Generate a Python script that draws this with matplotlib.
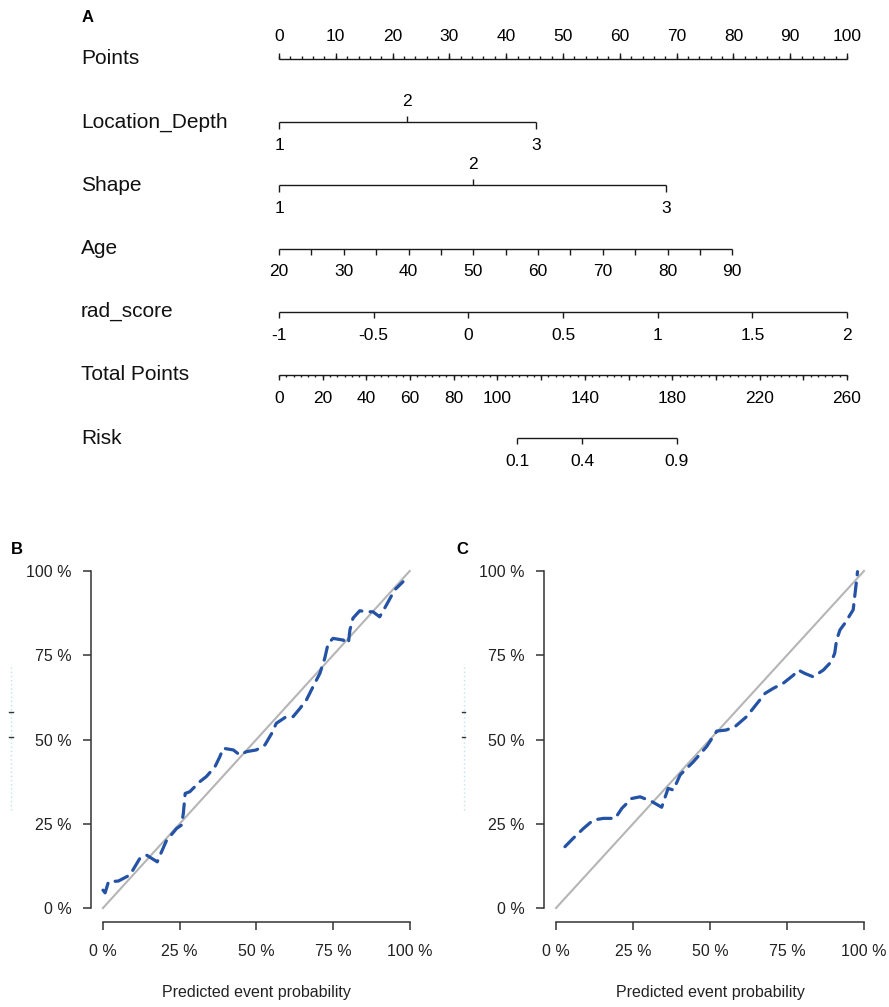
import numpy as np
import matplotlib
matplotlib.use("Agg")
import matplotlib.pyplot as plt

plt.rcParams['font.family'] = ['Liberation Sans', 'DejaVu Sans']

# ---- nomogram (panel A) data, everything in "points" units 0..100 ----
row_names = ['Points', 'Location_Depth', 'Shape', 'Age', 'rad_score', 'Total Points', 'Risk']

points_labels = np.arange(0, 101, 10)

loc_levels = ['1', '2', '3']
loc_points = [0.0, 22.5, 45.2]

shape_levels = ['1', '2', '3']
shape_points = [0.0, 34.2, 68.1]

age_ticks = [20, 25, 30, 35, 40, 45, 50, 55, 60, 65, 70, 75, 80, 85, 90]
age_labels = [20, 30, 40, 50, 60, 70, 80, 90]
age_range = (20, 90)
age_points_max = 79.8

rad_ticks = [-1, -0.5, 0, 0.5, 1, 1.5, 2]
rad_labels = ['-1', '-0.5', '0', '0.5', '1', '1.5', '2']

total_max = 260
total_labels = [0, 20, 40, 60, 80, 100, 140, 180, 220, 260]

risk_labels = ['0.1', '0.4', '0.9']
risk_total = [109.1, 138.9, 182.0]

# ---- calibration curves (panels B, C) ----
b_pred = [0.0, 0.007, 0.018, 0.05, 0.088, 0.12, 0.142, 0.177, 0.19, 0.207, 0.24, 0.256,
          0.262, 0.268, 0.283, 0.316, 0.337, 0.365, 0.381, 0.392, 0.425, 0.446, 0.468,
          0.5, 0.528, 0.55, 0.565, 0.598, 0.62, 0.642, 0.663, 0.685, 0.707, 0.723,
          0.734, 0.75, 0.783, 0.8, 0.805, 0.815, 0.837, 0.859, 0.88, 0.902, 0.924,
          0.951, 0.978]
b_obs = [0.053, 0.045, 0.078, 0.08, 0.098, 0.147, 0.157, 0.137, 0.165, 0.2, 0.236, 0.246,
         0.281, 0.34, 0.345, 0.375, 0.39, 0.419, 0.449, 0.474, 0.469, 0.454, 0.464,
         0.469, 0.484, 0.518, 0.548, 0.568, 0.568, 0.592, 0.617, 0.657, 0.696, 0.741,
         0.785, 0.8, 0.795, 0.785, 0.825, 0.86, 0.882, 0.879, 0.879, 0.864, 0.899,
         0.944, 0.968]

c_pred = [0.029, 0.056, 0.089, 0.121, 0.154, 0.192, 0.214, 0.246, 0.273, 0.311, 0.343,
          0.364, 0.381, 0.403, 0.446, 0.489, 0.522, 0.552, 0.581, 0.619, 0.652, 0.679,
          0.706, 0.738, 0.771, 0.787, 0.808, 0.835, 0.868, 0.894, 0.905, 0.911, 0.922,
          0.938, 0.965, 0.97, 0.976, 0.979]
c_obs = [0.182, 0.207, 0.236, 0.261, 0.266, 0.266, 0.296, 0.325, 0.330, 0.316, 0.299,
         0.355, 0.350, 0.395, 0.434, 0.479, 0.525, 0.528, 0.538, 0.568, 0.606, 0.637,
         0.652, 0.667, 0.691, 0.706, 0.696, 0.686, 0.706, 0.731, 0.756, 0.795, 0.825,
         0.845, 0.885, 0.925, 0.973, 0.998]

pct_ticks = [0, 0.25, 0.5, 0.75, 1.0]
pct_labels = ['0 %', '25 %', '50 %', '75 %', '100 %']

W, H = 889, 1007
fig = plt.figure(figsize=(W / 100, H / 100), dpi=100)

# ---------------- panel A ----------------
px_per_pt = (847 - 279) / 100.0
row_px = 63.17
axA = fig.add_axes([0, 1 - 480 / H, 1, 480 / H])
axA.set_xlim(-279 / px_per_pt, (W - 279) / px_per_pt)
axA.set_ylim((480 - 59) / row_px, -59 / row_px)
axA.axis('off')

LC = '#1a1a1a'
LW = 1.0
lab_off = 0.37
maj = 6 / row_px
mnr = 3 / row_px
TFS = 12.5


def hline(r, x0, x1):
    axA.plot([x0, x1], [r, r], color=LC, lw=LW, solid_capstyle='butt')


def ticks(r, xs, length):
    axA.vlines(xs, r, r + length, color=LC, lw=LW)


for i, name in enumerate(row_names):
    axA.text((81 - 279) / px_per_pt, i, name, fontsize=15, va='center', ha='left', color='#111')

# Points
r = 0
hline(r, 0, 100)
ticks(r, points_labels, -maj)
ticks(r, np.arange(0, 101, 2), -mnr)
for v in points_labels:
    axA.text(v, r - 0.35, str(v), fontsize=TFS, ha='center', va='center')

# Location_Depth / Shape
for r, levels, pts in [(1, loc_levels, loc_points), (2, shape_levels, shape_points)]:
    hline(r, pts[0], pts[-1])
    ticks(r, [pts[0], pts[-1]], 7 / row_px)
    ticks(r, pts[1:-1], -maj)
    for k, (lv, p) in enumerate(zip(levels, pts)):
        off = -0.33 if 0 < k < len(pts) - 1 else lab_off
        axA.text(p, r + off, lv, fontsize=TFS, ha='center', va='center')

# Age
r = 3
age_to_pts = lambda a: (np.asarray(a) - age_range[0]) / (age_range[1] - age_range[0]) * age_points_max
hline(r, 0, age_points_max)
ticks(r, age_to_pts(age_ticks), maj)
for a in age_labels:
    axA.text(age_to_pts(a), r + lab_off, str(a), fontsize=TFS, ha='center', va='center')

# rad_score
r = 4
rad_to_pts = lambda v: (np.asarray(v) - rad_ticks[0]) / (rad_ticks[-1] - rad_ticks[0]) * 100
hline(r, 0, 100)
ticks(r, rad_to_pts(rad_ticks), maj)
for v, s in zip(rad_ticks, rad_labels):
    axA.text(rad_to_pts(v), r + lab_off, s, fontsize=TFS, ha='center', va='center')

# Total Points
r = 5
tot_to_pts = lambda v: np.asarray(v) / total_max * 100
hline(r, 0, 100)
ticks(r, tot_to_pts(np.arange(0, total_max + 1, 20)), 5 / row_px)
ticks(r, tot_to_pts(np.arange(0, total_max + 0.1, 20 / 6)), 2.5 / row_px)
for v in total_labels:
    axA.text(tot_to_pts(v), r + lab_off, str(v), fontsize=TFS, ha='center', va='center')

# Risk
r = 6
rp = tot_to_pts(risk_total)
hline(r, rp[0], rp[-1])
ticks(r, rp, maj)
for p, s in zip(rp, risk_labels):
    axA.text(p, r + lab_off, s, fontsize=TFS, ha='center', va='center')

fig.text(82 / W, 1 - 18 / H, 'A', fontsize=12, fontweight='bold', va='center', ha='left')


# ---------------- panels B, C ----------------
def calib(ax, pred, obs, letter, letter_x):
    ax.plot([0, 1], [0, 1], color='#b5b5b5', lw=1.5, zorder=2)
    ax.plot(pred, obs, color='#2452a4', lw=2.3, linestyle=(0, (4.2, 2.6)),
            dash_capstyle='round', zorder=3)
    ax.set_xlim(-0.04, 1.04)
    ax.set_ylim(-0.04, 1.04)
    for s in ['top', 'right']:
        ax.spines[s].set_visible(False)
    ax.spines['left'].set_bounds(0, 1)
    ax.spines['bottom'].set_bounds(0, 1)
    for s in ['left', 'bottom']:
        ax.spines[s].set_color('#333333')
        ax.spines[s].set_linewidth(1.1)
    ax.set_xticks(pct_ticks)
    ax.set_xticklabels(pct_labels)
    ax.set_yticks(pct_ticks)
    ax.set_yticklabels(pct_labels)
    ax.tick_params(axis='x', length=5.5, width=1.1, color='#333333', pad=11, labelsize=11.5,
                   labelcolor='#222222')
    ax.tick_params(axis='y', length=5.5, width=1.1, color='#333333', pad=8, labelsize=11.5,
                   labelcolor='#222222')
    ax.text(0.5, -0.196, 'Predicted event probability', transform=ax.transAxes,
            ha='center', va='center', fontsize=11.5, color='#222222')
    # faint remnants at the far left
    ax.plot([-0.24, -0.24], [0.306, 0.707], transform=ax.transAxes, clip_on=False,
            color='#bfe3ee', lw=1, linestyle=(0, (1, 2)))
    for yy in [0.5755, 0.507]:
        ax.plot([-0.246, -0.236], [yy, yy], transform=ax.transAxes, clip_on=False,
                color='#333333', lw=1)
    fig.text(letter_x / W, 1 - 550 / H, letter, fontsize=12, fontweight='bold',
             ha='left', va='center')


top_px, bot_px = 557.5, 921.5
axB = fig.add_axes([90.7 / W, 1 - bot_px / H, (422 - 90.7) / W, (bot_px - top_px) / H])
calib(axB, b_pred, b_obs, 'B', 11)
axC = fig.add_axes([543.7 / W, 1 - bot_px / H, (876.3 - 543.7) / W, (bot_px - top_px) / H])
calib(axC, c_pred, c_obs, 'C', 456)

fig.savefig('out.png', dpi=100)
